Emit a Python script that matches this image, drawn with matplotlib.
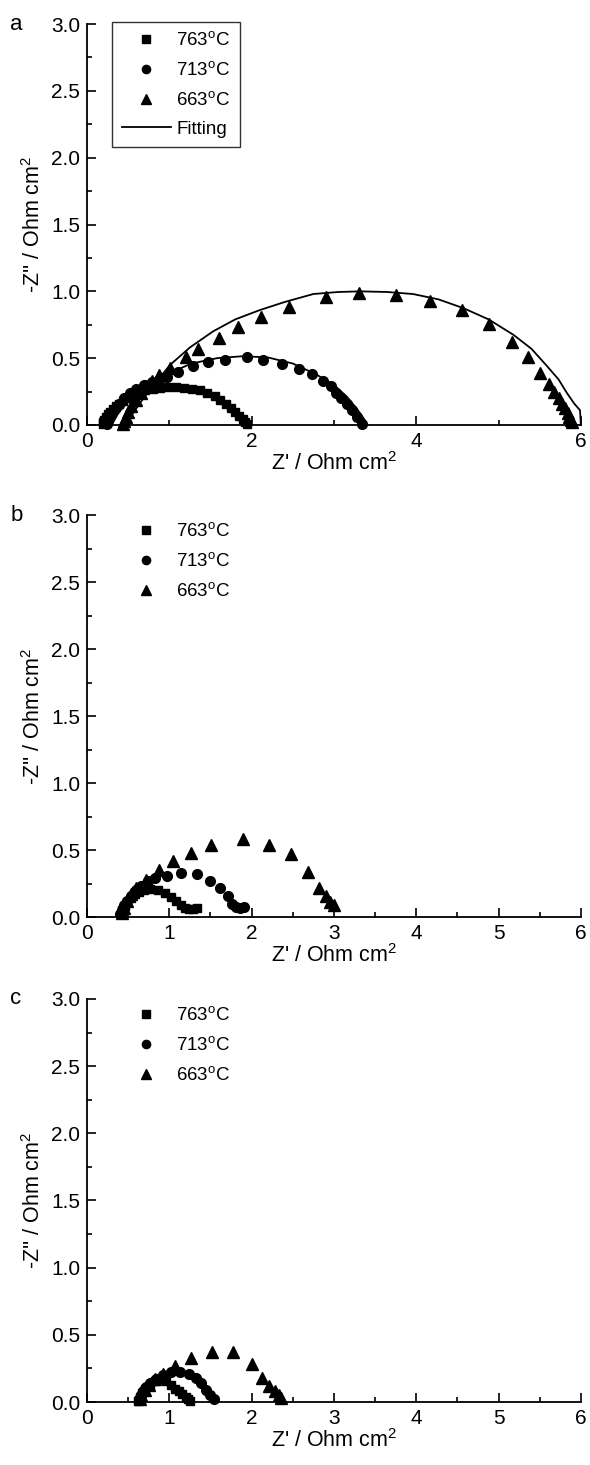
import matplotlib
matplotlib.use("Agg")
import matplotlib.pyplot as plt
from matplotlib.ticker import MultipleLocator

plt.rcParams["font.family"] = ["Liberation Sans", "DejaVu Sans"]
plt.rcParams["mathtext.fontset"] = "custom"
plt.rcParams["mathtext.rm"] = "Liberation Sans"

labels = ["763$^{\\mathrm{o}}$C", "713$^{\\mathrm{o}}$C", "663$^{\\mathrm{o}}$C"]

# Panel a: measured spectra
a_sq_x = [0.19, 0.20, 0.21, 0.23, 0.25, 0.28, 0.31, 0.35, 0.39, 0.44, 0.50, 0.56, 0.63, 0.71, 0.80, 0.89,
          0.98, 1.08, 1.18, 1.28, 1.37, 1.46, 1.55, 1.62, 1.69, 1.75, 1.80, 1.85, 1.89, 1.92, 1.94]
a_sq_y = [0.005, 0.02, 0.04, 0.06, 0.08, 0.10, 0.12, 0.14, 0.16, 0.18, 0.20, 0.22, 0.24, 0.26, 0.27, 0.28,
          0.285, 0.285, 0.28, 0.27, 0.26, 0.24, 0.22, 0.19, 0.16, 0.13, 0.10, 0.07, 0.045, 0.02, 0.005]
a_ci_x = [0.24, 0.25, 0.27, 0.30, 0.34, 0.39, 0.45, 0.52, 0.60, 0.69, 0.79, 0.88, 0.97, 1.11, 1.29, 1.47,
          1.68, 1.94, 2.14, 2.37, 2.57, 2.73, 2.87, 2.97, 3.03, 3.09, 3.16, 3.22, 3.28, 3.34]
a_ci_y = [0.005, 0.03, 0.06, 0.09, 0.12, 0.16, 0.20, 0.24, 0.27, 0.30, 0.32, 0.34, 0.36, 0.40, 0.44, 0.47,
          0.49, 0.505, 0.49, 0.46, 0.42, 0.38, 0.33, 0.29, 0.24, 0.20, 0.16, 0.11, 0.06, 0.01]
a_tr_x = [0.44, 0.45, 0.47, 0.50, 0.54, 0.59, 0.65, 0.72, 0.79, 0.87, 1.01, 1.20, 1.35, 1.60, 1.84, 2.11,
          2.45, 2.90, 3.31, 3.75, 4.17, 4.56, 4.89, 5.16, 5.36, 5.50, 5.61, 5.67, 5.73, 5.77, 5.81, 5.84,
          5.86, 5.88, 5.89]
a_tr_y = [0.005, 0.03, 0.06, 0.10, 0.14, 0.19, 0.24, 0.29, 0.33, 0.375, 0.43, 0.51, 0.57, 0.65, 0.73, 0.81,
          0.88, 0.96, 0.99, 0.97, 0.93, 0.86, 0.755, 0.62, 0.51, 0.39, 0.31, 0.25, 0.20, 0.16, 0.125, 0.09,
          0.06, 0.04, 0.02]

# Panel a: fitted curves
fit_sq_x = [0.20, 0.26, 0.35, 0.48, 0.65, 0.88, 1.10, 1.35, 1.55, 1.70, 1.82, 1.91, 1.95]
fit_sq_y = [0.0, 0.07, 0.14, 0.20, 0.25, 0.28, 0.29, 0.275, 0.23, 0.17, 0.10, 0.03, 0.0]
fit_ci_x = [0.30, 0.38, 0.52, 0.72, 0.97, 1.27, 1.58, 1.90, 2.20, 2.50, 2.78, 3.00, 3.16, 3.28, 3.36, 3.41]
fit_ci_y = [0.0, 0.09, 0.19, 0.29, 0.38, 0.46, 0.50, 0.515, 0.505, 0.46, 0.38, 0.30, 0.21, 0.12, 0.05, 0.0]
fit_tr_x = [0.48, 0.55, 0.65, 0.85, 1.01, 1.25, 1.53, 1.80, 2.10, 2.40, 2.75, 3.05, 3.32, 3.65, 3.96,
            4.27, 4.57, 4.88, 5.18, 5.40, 5.59, 5.73, 5.83, 5.92, 5.99, 6.00]
fit_tr_y = [0.0, 0.08, 0.17, 0.33, 0.45, 0.58, 0.70, 0.79, 0.86, 0.92, 0.98, 0.995, 1.0, 0.995, 0.98,
            0.94, 0.875, 0.79, 0.675, 0.57, 0.44, 0.34, 0.24, 0.16, 0.11, 0.0]

# Panel b
b_sq_x = [0.41, 0.43, 0.46, 0.49, 0.53, 0.58, 0.63, 0.69, 0.77, 0.86, 0.95, 1.02, 1.08, 1.14, 1.19, 1.24,
          1.29, 1.34]
b_sq_y = [0.02, 0.05, 0.08, 0.11, 0.14, 0.17, 0.19, 0.20, 0.21, 0.20, 0.18, 0.15, 0.12, 0.09, 0.07, 0.06,
          0.06, 0.065]
b_ci_x = [0.40, 0.42, 0.45, 0.48, 0.53, 0.59, 0.66, 0.74, 0.82, 0.97, 1.14, 1.34, 1.50, 1.62, 1.71, 1.76,
          1.81, 1.86, 1.91]
b_ci_y = [0.02, 0.05, 0.09, 0.12, 0.16, 0.20, 0.23, 0.27, 0.29, 0.31, 0.33, 0.32, 0.27, 0.22, 0.155, 0.10,
          0.075, 0.065, 0.075]
b_tr_x = [0.42, 0.45, 0.49, 0.54, 0.60, 0.72, 0.87, 1.05, 1.26, 1.51, 1.89, 2.21, 2.48, 2.69, 2.82, 2.90,
          2.95, 3.00]
b_tr_y = [0.03, 0.07, 0.12, 0.17, 0.22, 0.28, 0.35, 0.42, 0.48, 0.54, 0.58, 0.54, 0.47, 0.34, 0.22, 0.155,
          0.11, 0.09]

# Panel c
c_sq_x = [0.62, 0.64, 0.67, 0.71, 0.76, 0.82, 0.89, 0.96, 1.02, 1.07, 1.12, 1.16, 1.20, 1.23, 1.25]
c_sq_y = [0.01, 0.04, 0.07, 0.10, 0.13, 0.16, 0.17, 0.16, 0.13, 0.10, 0.08, 0.06, 0.04, 0.02, 0.01]
c_ci_x = [0.63, 0.65, 0.68, 0.72, 0.77, 0.84, 0.92, 1.02, 1.13, 1.24, 1.32, 1.39, 1.45, 1.50, 1.54]
c_ci_y = [0.02, 0.05, 0.08, 0.11, 0.14, 0.17, 0.20, 0.22, 0.225, 0.21, 0.18, 0.14, 0.09, 0.05, 0.02]
c_tr_x = [0.64, 0.66, 0.70, 0.75, 0.82, 0.92, 1.07, 1.26, 1.52, 1.77, 2.00, 2.13, 2.21, 2.28, 2.33, 2.36]
c_tr_y = [0.02, 0.05, 0.09, 0.13, 0.17, 0.21, 0.27, 0.33, 0.37, 0.37, 0.28, 0.18, 0.12, 0.08, 0.05, 0.03]

fig = plt.figure(figsize=(5.9, 14.65), dpi=100)
left, width = 0.1475, 0.837
ax_a = fig.add_axes([left, 0.7099, width, 0.2737])
ax_b = fig.add_axes([left, 0.3740, width, 0.2744])
ax_c = fig.add_axes([left, 0.0430, width, 0.2751])

panels = [
    (ax_a, "a", (a_sq_x, a_sq_y), (a_ci_x, a_ci_y), (a_tr_x, a_tr_y), 2),
    (ax_b, "b", (b_sq_x, b_sq_y), (b_ci_x, b_ci_y), (b_tr_x, b_tr_y), 1),
    (ax_c, "c", (c_sq_x, c_sq_y), (c_ci_x, c_ci_y), (c_tr_x, c_tr_y), 1),
]

for ax, letter, sq, ci, tr, xmaj in panels:
    ax.plot(*sq, "s", color="black", ms=6, ls="none", label=labels[0], clip_on=False)
    ax.plot(*ci, "o", color="black", ms=7, ls="none", label=labels[1], clip_on=False)
    ax.plot(*tr, "^", color="black", ms=8, ls="none", label=labels[2], clip_on=False)
    if letter == "a":
        ax.plot(fit_sq_x, fit_sq_y, "-", color="black", lw=1.3, label="Fitting", clip_on=False)
        ax.plot(fit_ci_x, fit_ci_y, "-", color="black", lw=1.3, clip_on=False)
        ax.plot(fit_tr_x, fit_tr_y, "-", color="black", lw=1.3, clip_on=False)
    ax.set_xlim(0, 6)
    ax.set_ylim(0, 3)
    ax.xaxis.set_major_locator(MultipleLocator(xmaj))
    ax.xaxis.set_minor_locator(MultipleLocator(xmaj / 2))
    ax.yaxis.set_major_locator(MultipleLocator(0.5))
    ax.yaxis.set_minor_locator(MultipleLocator(0.25))
    ax.set_yticklabels([f"{v:.1f}" for v in ax.get_yticks()])
    ax.tick_params(which="both", direction="in", labelsize=15, width=1.2, color="black")
    ax.tick_params(which="major", length=6.5, pad=5)
    ax.tick_params(which="minor", length=3.5)
    for s in ("top", "right"):
        ax.spines[s].set_visible(False)
    for s in ("left", "bottom"):
        ax.spines[s].set_linewidth(1.3)
    ax.set_xlabel("Z' / Ohm cm$^{2}$", fontsize=15.5, labelpad=1)
    ax.set_ylabel("-Z'' / Ohm cm$^{2}$", fontsize=15.5, labelpad=4)
    ax.text(-0.155, 1.0, letter, transform=ax.transAxes, fontsize=16, ha="left", va="center")
    leg = ax.legend(loc="upper left", bbox_to_anchor=(0.04, 1.02), fontsize=13.5, frameon=(letter == "a"),
                    fancybox=False, edgecolor="black", handlelength=2.6, handletextpad=0.3,
                    borderpad=0.5, labelspacing=0.6, markerscale=0.85, borderaxespad=0.3)
    leg.get_frame().set_linewidth(1.0)

fig.savefig("out.png", dpi=100)
